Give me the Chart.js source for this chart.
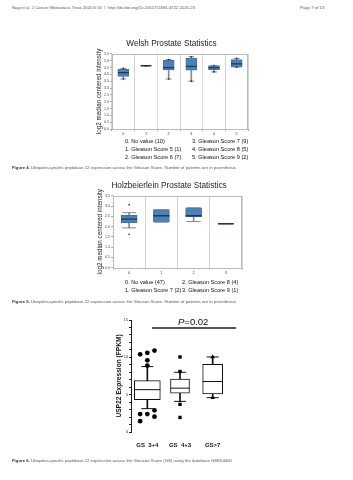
<!DOCTYPE html>
<html>
<head>
<meta charset="utf-8">
<script src="https://cdn.jsdelivr.net/npm/chart.js@4.4.0/dist/chart.umd.min.js"></script>
<style>
  html, body { margin: 0; padding: 0; background: #fff; }
  body { width: 353px; height: 480px; position: relative; overflow: hidden; font-family: "Liberation Sans", Arial, sans-serif; color: #222; }
  .abs { position: absolute; }
  .hdr { top: 5px; font-size: 4.3px; color: #555; white-space: nowrap; }
  .cap { left: 12px; font-size: 4.3px; color: #555; white-space: nowrap; }
  .cap b { color: #333; }
  .leg { font-size: 5.6px; line-height: 8px; color: #111; white-space: nowrap; }
  .pval { font-size: 9.5px; color: #111; }
</style>
</head>
<body>
<div class="abs hdr" style="left:12px">Nag et al. J Cancer Metastasis Treat 2020;6:16&nbsp; I&nbsp; http://dx.doi.org/10.20517/2394-4722.2020.23</div>
<div class="abs hdr" style="left:300px">Page 7 of 13</div>

<div class="abs" style="left:60px; top:36px; width:220px; height:102px"><canvas id="welsh"></canvas></div>
<div class="abs leg" id="welshLeg1" style="left:125px; top:137px"></div>
<div class="abs leg" id="welshLeg2" style="left:192px; top:137px"></div>
<div class="abs cap" style="top:165px"><b>Figure 4.</b> Ubiquitin-specific peptidase 22 expression across the Gleason Score. Number of patients are in parenthesis</div>

<div class="abs" style="left:60px; top:178px; width:230px; height:99px"><canvas id="holz"></canvas></div>
<div class="abs leg" id="holzLeg1" style="left:125px; top:278px"></div>
<div class="abs leg" id="holzLeg2" style="left:182px; top:278px"></div>
<div class="abs cap" style="top:299px"><b>Figure 5.</b> Ubiquitin-specific peptidase 22 expression across the Gleason Score. Number of patients are in parenthesis</div>

<div class="abs pval" style="left:178px; top:316px"><i>P</i>=0.02</div>
<div class="abs" style="left:152px; top:327px; width:84px; height:2px; background:#555"></div>
<div class="abs" style="left:95px; top:306px; width:150px; height:141px"><canvas id="gs"></canvas></div>
<div class="abs cap" style="top:458px"><b>Figure 6.</b> Ubiquitin-specific peptidase 22 expression across the Gleason Score (GS) using the database GSE54460</div>

<script>
// Figure 4 - Welsh
const welshCats = ['0', '1', '2', '3', '4', '5'];
const welshMin = [3.66, 4.63, 3.66, 3.50, 4.18, 4.53];
const welshQ1 = [3.85, 4.63, 4.32, 4.30, 4.34, 4.53];
const welshMed = [4.13, 4.63, 4.49, 4.58, 4.49, 4.77];
const welshQ3 = [4.37, 4.63, 5.03, 5.19, 4.65, 5.08];
const welshMax = [4.44, 4.63, 5.08, 5.29, 4.65, 5.17];
const welshTicks = ['0.0', '0.5', '1.0', '1.5', '2.0', '2.5', '3.0', '3.5', '4.0', '4.5', '5.0', '5.5'];
const welshLegend = ['0. No value (10)', '1. Gleason Score 5 (1)', '2. Gleason Score 6 (7)',
    '3. Gleason Score 7 (9)', '4. Gleason Score 8 (5)', '5. Gleason Score 9 (2)'];

// Figure 5 - Holzbeierlein
const holzCats = ['0', '1', '2', '3'];
const holzMin = [1.94, 2.22, 2.25, 2.14];
const holzQ1 = [2.19, 2.22, 2.48, 2.14];
const holzMed = [2.37, 2.53, 2.53, 2.14];
const holzQ3 = [2.55, 2.83, 2.92, 2.14];
const holzMax = [2.68, 2.83, 2.92, 2.14];
const holzOutCat = [0, 0];
const holzOutVal = [3.07, 1.63];
const holzTicks = ['0.0', '0.5', '1.0', '1.5', '2.0', '2.5', '3.0', '3.5'];
const holzLegend = ['0. No value (47)', '1. Gleason Score 7 (2)', '2. Gleason Score 8 (4)', '3. Gleason Score 9 (1)'];

// Figure 6 - GSE54460
const gsCats = ['GS_3+4', 'GS_4+3', 'GS>7'];
const gsMin = [3.13, 4.1, 4.6];
const gsQ1 = [4.33, 5.2, 5.1];
const gsMed = [5.67, 5.87, 6.76];
const gsQ3 = [6.87, 7.1, 9.05];
const gsMax = [8.76, 8.0, 10.05];
const gs34Out = [10.4, 10.6, 10.9, 9.6, 8.9, 2.4, 2.4, 2.05, 2.9, 1.45];
const gs34Col = [-1, 0, 1, 0, 0, -1, 0, 1, 1, -1];
const gs43Out = [10.05, 8.1, 3.7, 1.95];
const gs7Out = [10.05, 4.6];
const gsTicks = ['0', '5', '10', '15'];

const FONT = 'Liberation Sans';

document.getElementById('welshLeg1').innerHTML = welshLegend.slice(0, 3).join('<br>');
document.getElementById('welshLeg2').innerHTML = welshLegend.slice(3).join('<br>');
document.getElementById('holzLeg1').innerHTML = holzLegend.slice(0, 2).join('<br>');
document.getElementById('holzLeg2').innerHTML = holzLegend.slice(2).join('<br>');

// frame round the plot area
const frame = {
    id: 'frame',
    beforeDatasetsDraw(chart, args, opts) {
        if (!opts.color) return;
        const a = chart.chartArea;
        const ctx = chart.ctx;
        ctx.save();
        ctx.strokeStyle = opts.color;
        ctx.lineWidth = 1;
        ctx.strokeRect(Math.round(a.left) + 0.5, Math.round(a.top) + 0.5, Math.round(a.width) - 1, Math.round(a.height));
        ctx.restore();
    }
};

// one box per dataset so every box can have its own width
function boxSets(xs, lo, q1, med, q3, hi, s) {
    const widths = s.widths || xs.map(() => s.width);
    const pt = (v, i) => ({ x: xs[i], y: v });
    const sets = [
        { type: 'bar', data: lo.map((v, i) => ({ x: xs[i], y: [v, hi[i]] })), backgroundColor: s.whisker,
          barThickness: 1, grouped: false, order: 6 },
        { type: 'line', data: lo.map(pt), showLine: false, pointStyle: 'line', pointRadius: s.cap,
          pointBorderColor: s.whisker, pointBorderWidth: 1, order: 4 },
        { type: 'line', data: hi.map(pt), showLine: false, pointStyle: 'line', pointRadius: s.cap,
          pointBorderColor: s.whisker, pointBorderWidth: 1, order: 4 },
        { type: 'line', data: med.map(pt), showLine: false, pointStyle: 'line',
          pointRadius: (c) => widths[c.dataIndex] / 2,
          pointBorderColor: s.median, pointBorderWidth: s.medianWidth, order: 1 }
    ];
    xs.forEach((x, i) => {
        sets.push({ type: 'bar', data: [{ x: x, y: [q1[i], q3[i]] }], backgroundColor: s.fill,
            borderColor: s.edge, borderWidth: 1, borderSkipped: false, barThickness: widths[i], grouped: false, order: 5 });
    });
    return sets;
}

function statsChart(id, cats, lo, q1, med, q3, hi, ticks, opts) {
    const sets = boxSets(cats, lo, q1, med, q3, hi, opts.style);
    if (opts.ends) {
        sets.push({ type: 'line', data: lo.concat(hi).map((v, i) => ({ x: cats[i % cats.length], y: v })),
            showLine: false, pointRadius: 0.8, pointBackgroundColor: '#222', pointBorderWidth: 0, order: 0 });
    }
    if (opts.outliers) {
        sets.push({ type: 'line', data: opts.outliers.val.map((v, i) => ({ x: cats[opts.outliers.cat[i]], y: v })),
            showLine: false, pointRadius: 0.8, pointBackgroundColor: '#222', pointBorderWidth: 0, order: 0 });
    }
    return new Chart(document.getElementById(id), {
        type: 'bar',
        data: { labels: cats, datasets: sets },
        plugins: [frame],
        options: {
            responsive: true,
            maintainAspectRatio: false,
            animation: false,
            layout: { padding: { left: opts.left, right: opts.right, top: 0, bottom: 0 } },
            plugins: {
                legend: { display: false },
                tooltip: { enabled: false },
                frame: { color: '#bbb' },
                title: {
                    display: true,
                    text: opts.title,
                    color: '#222',
                    font: { family: FONT, size: 8.2, weight: 'normal' },
                    padding: { top: 3, bottom: 5 }
                }
            },
            scales: {
                x: {
                    type: 'category',
                    offset: true,
                    grid: { offset: true, color: '#d4d4d4', tickColor: '#aaa', tickLength: 2 },
                    border: { display: false },
                    ticks: { color: '#444', font: { family: FONT, size: 3.8 }, padding: 1 },
                    afterFit: (scale) => { scale.height = opts.xh; }
                },
                y: {
                    min: 0,
                    max: opts.max,
                    grid: { drawOnChartArea: false, color: '#aaa', tickLength: 2 },
                    border: { display: false },
                    ticks: { stepSize: 0.5, autoSkip: false, color: '#444', font: { family: FONT, size: 3.6 }, padding: 1,
                        callback: (v, i) => ticks[i] },
                    title: { display: true, text: 'log2 median centered intensity', color: '#222',
                        font: { family: FONT, size: 6.3 }, padding: { top: 0, bottom: 2 } },
                    afterFit: (scale) => { scale.width = opts.yw; }
                }
            }
        }
    });
}

statsChart('welsh', welshCats, welshMin, welshQ1, welshMed, welshQ3, welshMax, welshTicks, {
    title: 'Welsh Prostate Statistics', max: 5.5, left: 35, yw: 17, xh: 9, right: 32, ends: true,
    style: { fill: '#4f7fb7', edge: '#44709f', whisker: '#8a8a8a', median: '#1c3a60', medianWidth: 1.3, width: 11, cap: 3 }
});

statsChart('holz', holzCats, holzMin, holzQ1, holzMed, holzQ3, holzMax, holzTicks, {
    title: 'Holzbeierlein Prostate Statistics', max: 3.5, left: 36, yw: 17, xh: 9, right: 48,
    outliers: { cat: holzOutCat, val: holzOutVal },
    style: { fill: '#4f7fb7', edge: '#44709f', whisker: '#8a8a8a', median: '#1c3a60', medianWidth: 1.3, width: 16, cap: 7 }
});

// Figure 6
const gsIdx = gsCats.map((c, i) => i);
const gsSets = boxSets(gsIdx, gsMin, gsQ1, gsMed, gsQ3, gsMax, {
    fill: '#ffffff', edge: '#111', whisker: '#111', median: '#111', medianWidth: 1, widths: [26, 19, 20], cap: 6
});
gsSets.push(
    { type: 'scatter', data: gs34Out.map((v, i) => ({ x: 0 + gs34Col[i] * 0.22, y: v })),
      pointStyle: 'circle', pointRadius: 2.4, pointBackgroundColor: '#000', pointBorderWidth: 0, order: 0 },
    { type: 'scatter', data: gs43Out.map((v) => ({ x: 1, y: v })),
      pointStyle: 'rect', pointRadius: 2.4, pointBackgroundColor: '#000', pointBorderWidth: 0, order: 0 },
    { type: 'scatter', data: gs7Out.map((v) => ({ x: 2, y: v })),
      pointStyle: 'triangle', pointRadius: 2.6, pointBackgroundColor: '#000', pointBorderWidth: 0, order: 0 }
);

new Chart(document.getElementById('gs'), {
    type: 'bar',
    data: { datasets: gsSets },
    options: {
        responsive: true,
        maintainAspectRatio: false,
        animation: false,
        layout: { padding: { left: 20, right: 16, top: 3, bottom: 0 } },
        plugins: { legend: { display: false }, tooltip: { enabled: false } },
        scales: {
            x: {
                type: 'linear',
                offset: false,
                min: -0.5,
                max: 2.5,
                afterBuildTicks: (scale) => { scale.ticks = gsIdx.map((i) => ({ value: i })); },
                grid: { display: false },
                border: { display: false },
                ticks: { color: '#111', font: { family: FONT, size: 6, weight: 'bold' }, padding: 2, autoSkip: false,
                    maxRotation: 0, callback: (v) => gsCats[v] },
                afterFit: (scale) => { scale.height = 15; }
            },
            y: {
                min: 0,
                max: 15,
                grid: { drawOnChartArea: false, color: '#222', tickLength: 2 },
                border: { display: true, color: '#222', width: 1 },
                ticks: { stepSize: 1, autoSkip: false, color: '#222', font: { family: FONT, size: 3.8 }, padding: 1,
                    callback: (v) => (v % 5 === 0 ? gsTicks[v / 5] : '') },
                title: { display: true, text: 'USP22 Expression (FPKM)', color: '#111',
                    font: { family: FONT, size: 6.6, weight: 'bold' }, padding: { top: 0, bottom: 1 } },
                afterFit: (scale) => { scale.width = 16; }
            }
        }
    }
});
</script>
</body>
</html>
